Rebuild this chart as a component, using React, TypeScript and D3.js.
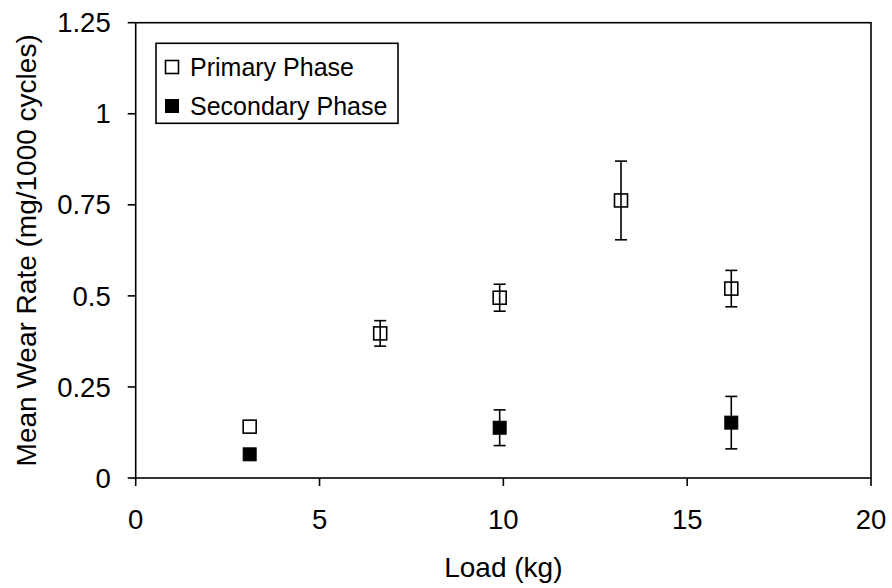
import React from "react";
import * as d3 from "d3";

const primaryLoad = [3.1, 6.65, 9.9, 13.2, 16.2];
const primaryMean = [0.141, 0.397, 0.495, 0.762, 0.52];
const primaryErr = [0, 0.035, 0.037, 0.108, 0.05];

const secondaryLoad = [3.1, 9.9, 16.2];
const secondaryMean = [0.065, 0.138, 0.152];
const secondaryErr = [0, 0.049, 0.072];

const xTicks = [0, 5, 10, 15, 20];
const yTicks = [0, 0.25, 0.5, 0.75, 1, 1.25];
const yTickLabels = ["0", "0.25", "0.5", "0.75", "1", "1.25"];
const legendLabels = ["Primary Phase", "Secondary Phase"];

const W = 892;
const H = 588;
const left = 135.7;
const right = 871;
const top = 22.7;
const bottom = 478;
const FONT = "'Liberation Sans', Arial, sans-serif";

export default function App() {
  const x = d3.scaleLinear().domain([0, 20]).range([left, right]);
  const y = d3.scaleLinear().domain([0, 1.25]).range([bottom, top]);
  const ms = 13;
  const cap = 6;

  const primary = primaryLoad.map((l, i) => ({ x: l, y: primaryMean[i], e: primaryErr[i] }));
  const secondary = secondaryLoad.map((l, i) => ({ x: l, y: secondaryMean[i], e: secondaryErr[i] }));

  const errBars = (pts: { x: number; y: number; e: number }[], key: string) =>
    pts.filter((p) => p.e > 0).map((p, i) => {
      const cx = x(p.x);
      const y1 = y(p.y + p.e);
      const y2 = y(p.y - p.e);
      return (
        <g key={key + i} stroke="#000" strokeWidth={1.6}>
          <line x1={cx} x2={cx} y1={y1} y2={y2} />
          <line x1={cx - cap} x2={cx + cap} y1={y1} y2={y1} />
          <line x1={cx - cap} x2={cx + cap} y1={y2} y2={y2} />
        </g>
      );
    });

  return (
    <svg width={W} height={H} style={{ position: "absolute", left: 0, top: 0, background: "#fff" }}>
      <rect x={0} y={0} width={W} height={H} fill="#fff" />
      {/* frame */}
      <rect x={left} y={top} width={right - left} height={bottom - top} fill="none" stroke="#000" strokeWidth={1.6} />
      {/* y ticks */}
      {yTicks.map((t, i) => (
        <g key={"yt" + i}>
          <line x1={left - 8} x2={left} y1={y(t)} y2={y(t)} stroke="#000" strokeWidth={1.6} />
          <text x={left - 25} y={y(t)} dy="0.35em" textAnchor="end" fontFamily={FONT} fontSize={27.5} fill="#000">
            {yTickLabels[i]}
          </text>
        </g>
      ))}
      {/* x ticks */}
      {xTicks.map((t, i) => (
        <g key={"xt" + i}>
          <line x1={x(t)} x2={x(t)} y1={bottom} y2={bottom + 8} stroke="#000" strokeWidth={1.6} />
          <text x={x(t)} y={529} textAnchor="middle" fontFamily={FONT} fontSize={27.5} fill="#000">
            {t}
          </text>
        </g>
      ))}
      {/* axis labels */}
      <text x={(left + right) / 2} y={576.5} textAnchor="middle" fontFamily={FONT} fontSize={28} fill="#000">
        Load (kg)
      </text>
      <text
        transform={`translate(36, ${(top + bottom) / 2 + 0}) rotate(-90)`}
        textAnchor="middle"
        fontFamily={FONT}
        fontSize={28}
        fill="#000"
      >
        Mean Wear Rate (mg/1000 cycles)
      </text>
      {/* markers */}
      {primary.map((p, i) => (
        <rect key={"pm" + i} x={x(p.x) - ms / 2} y={y(p.y) - ms / 2} width={ms} height={ms} fill="#fff" stroke="#000" strokeWidth={1.6} />
      ))}
      {secondary.map((p, i) => (
        <rect key={"sm" + i} x={x(p.x) - ms / 2} y={y(p.y) - ms / 2} width={ms} height={ms} fill="#000" stroke="#000" strokeWidth={1} />
      ))}
      {errBars(primary, "pe")}
      {errBars(secondary, "se")}
      {/* legend */}
      <rect x={156} y={43.3} width={242} height={80} fill="#fff" stroke="#000" strokeWidth={1.6} />
      <rect x={172 - 6.5} y={67 - 6.5} width={13} height={13} fill="#fff" stroke="#000" strokeWidth={1.6} />
      <rect x={172 - 6.5} y={106 - 6.5} width={13} height={13} fill="#000" stroke="#000" strokeWidth={1} />
      <text x={190} y={76} fontFamily={FONT} fontSize={25} fill="#000">
        {legendLabels[0]}
      </text>
      <text x={190} y={115} fontFamily={FONT} fontSize={25} fill="#000">
        {legendLabels[1]}
      </text>
    </svg>
  );
}
